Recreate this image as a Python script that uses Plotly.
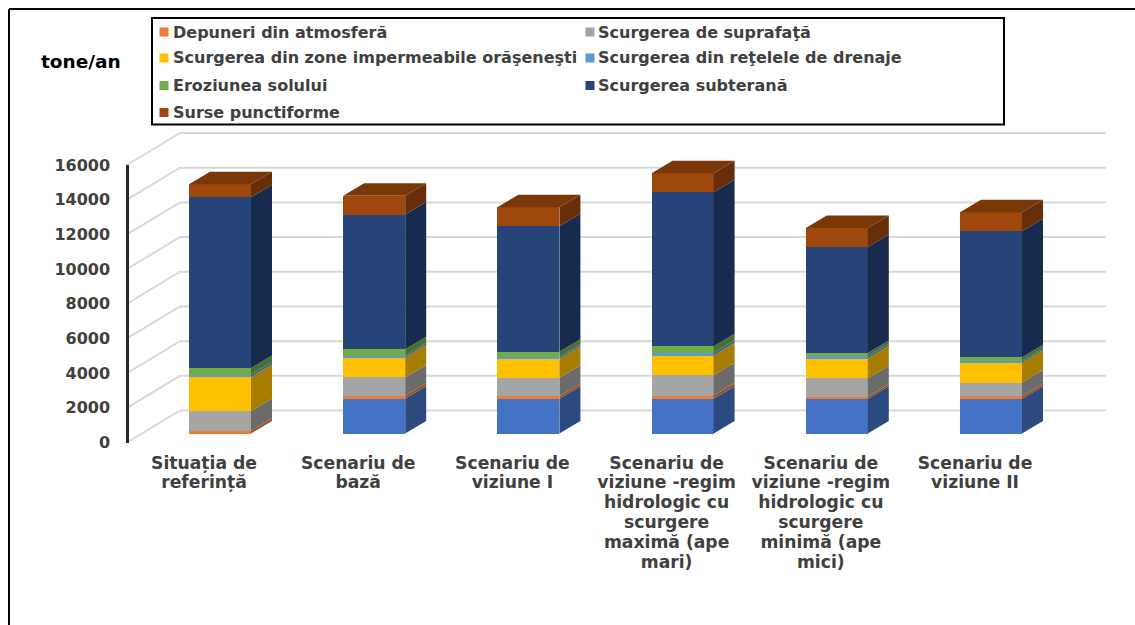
import plotly.graph_objects as go

# ---------- data ----------
categories = ["Situația de<br>referință", "Scenariu de<br>bază", "Scenariu de<br>viziune I",
              "Scenariu de<br>viziune -regim<br>hidrologic cu<br>scurgere<br>maximă (ape<br>mari)",
              "Scenariu de<br>viziune -regim<br>hidrologic cu<br>scurgere<br>minimă (ape<br>mici)",
              "Scenariu de<br>viziune II"]
baza = [0, 2000, 2000, 2000, 2000, 2000]
depuneri = [150, 170, 150, 190, 130, 150]
suprafata = [1150, 1060, 1060, 1170, 1055, 790]
impermeabile = [1950, 1150, 1100, 1135, 1135, 1135]
drenaje = [150, 115, 115, 155, 130, 115]
eroziune = [380, 365, 290, 380, 195, 210]
subterana = [9840, 7760, 7240, 8885, 6110, 7255]
punctiforme = [750, 1095, 1095, 1095, 1095, 1095]
y_ticks = [0, 2000, 4000, 6000, 8000, 10000, 12000, 14000, 16000]

series_values = [baza, depuneri, suprafata, impermeabile, drenaje, eroziune, subterana, punctiforme]
series_names = ["", "Depuneri din atmosferă", "Scurgerea de suprafaţă",
                "Scurgerea din zone impermeabile orăşeneşti", "Scurgerea din reţelele de drenaje",
                "Eroziunea solului", "Scurgerea subterană", "Surse punctiforme"]
front_colors = ["#4472C4", "#ED7D31", "#A5A5A5", "#FFC000", "#5B9BD5", "#70AD47", "#264478", "#9E480E"]
side_colors = ["#2C4A80", "#9A5120", "#6B6B6B", "#A67D00", "#3B658A", "#49702E", "#172B4E", "#672F09"]
top_color = "#7A3708"

# ---------- geometry of the page ----------
W, H = 1135, 625
FONT = "DejaVu Sans"
TEXT = "#404040"
CAT0, CAT_STEP = 220.0, 154.2          # pixel of first category, pixels per category
PLOT_TOP, PLOT_BOTTOM = 165.0, 442.5   # pixels of 16000 and 0 on the front plane
U = 16000 / (PLOT_BOTTOM - PLOT_TOP)   # value units per pixel
BAR_W = 62 / CAT_STEP
DEPTH_X, DEPTH_Y = 21 / CAT_STEP, 12.5 * U
BAR_SHIFT = 9 * U                      # bars stand behind the front plane
x_range = [(0 - CAT0) / CAT_STEP, (W - CAT0) / CAT_STEP]
front_domain = [(H - PLOT_BOTTOM) / H, (H - PLOT_TOP) / H]
full_domain = [(H - PLOT_BOTTOM) / H, 1]
full_top = PLOT_BOTTOM * U


def cx(px):
    return (px - CAT0) / CAT_STEP


fig = go.Figure()

# wall: back grid lines and floor/side diagonals
gx, gy = [], []
for v in y_ticks:
    gx += [cx(127), cx(180), cx(1106), None]
    gy += [v, v + 32 * U, v + 32 * U, None]
fig.add_trace(go.Scatter(x=gx, y=gy, mode="lines", line=dict(color="#D9D9D9", width=2),
                         hoverinfo="skip", showlegend=False, cliponaxis=False, xaxis="x", yaxis="y"))

# carrier of the value axis on the front plane
fig.add_trace(go.Scatter(x=[None] * len(y_ticks), y=y_ticks, mode="lines", hoverinfo="skip",
                         showlegend=False, xaxis="x", yaxis="y3"))

# stacked front faces
idx = list(range(len(categories)))
for name, vals, col in zip(series_names, series_values, front_colors):
    fig.add_trace(go.Bar(x=idx, y=vals, name=name, width=BAR_W, marker=dict(color=col, line=dict(width=0)),
                         showlegend=False, xaxis="x2", yaxis="y2"))

# side faces and tops derived from the stacked values
running = [0] * len(categories)
for vals, col in zip(series_values, side_colors):
    sx, sy = [], []
    for i, v in enumerate(vals):
        lo, hi = running[i], running[i] + v
        if v > 0:
            xr = i + BAR_W / 2
            sx += [xr, xr + DEPTH_X, xr + DEPTH_X, xr, xr, None]
            sy += [lo, lo + DEPTH_Y, hi + DEPTH_Y, hi, lo, None]
        running[i] = hi
    fig.add_trace(go.Scatter(x=sx, y=sy, mode="lines", fill="toself", fillcolor=col, line=dict(width=0),
                             hoverinfo="skip", showlegend=False, cliponaxis=False, xaxis="x2", yaxis="y2"))
tx, ty = [], []
for i, top in enumerate(running):
    xl, xr = i - BAR_W / 2, i + BAR_W / 2
    tx += [xl, xl + DEPTH_X, xr + DEPTH_X, xr, xl, None]
    ty += [top, top + DEPTH_Y, top + DEPTH_Y, top, top, None]
fig.add_trace(go.Scatter(x=tx, y=ty, mode="lines", fill="toself", fillcolor=top_color, line=dict(width=0),
                         hoverinfo="skip", showlegend=False, cliponaxis=False, xaxis="x2", yaxis="y2"))

# ---------- legend, title, frame ----------
shapes = [
    dict(type="line", xref="paper", yref="paper", x0=9 / W, x1=1, y0=1 - 9 / H, y1=1 - 9 / H,
         line=dict(color="#000000", width=2)),
    dict(type="line", xref="paper", yref="paper", x0=9 / W, x1=9 / W, y0=1 - 9 / H, y1=0,
         line=dict(color="#000000", width=2)),
    dict(type="rect", xref="paper", yref="paper", x0=152 / W, x1=1004 / W, y0=1 - 18 / H, y1=1 - 124.5 / H,
         line=dict(color="#000000", width=2), fillcolor="#FFFFFF"),
]
annotations = [dict(text="<b>tone/an</b>", xref="paper", yref="paper", x=41 / W, y=1 - 61 / H, xanchor="left",
                    yanchor="middle", showarrow=False, xshift=-2, font=dict(family=FONT, size=18.5, color="#000000"))]
rows = [32, 58, 85.5, 112.5]
for k, (name, col) in enumerate(zip(series_names[1:], front_colors[1:])):
    ry = rows[k // 2]
    sq0, tx0 = (159.5, 173) if k % 2 == 0 else (585.5, 598)
    shapes.append(dict(type="rect", xref="paper", yref="paper", x0=sq0 / W, x1=(sq0 + 9) / W,
                       y0=1 - (ry - 4.5) / H, y1=1 - (ry + 4.5) / H, fillcolor=col, line=dict(width=0)))
    annotations.append(dict(text=f"<b>{name}</b>", xref="paper", yref="paper", x=tx0 / W, y=1 - ry / H,
                            xanchor="left", yanchor="middle", showarrow=False, xshift=-2,
                            font=dict(family=FONT, size=16, color=TEXT)))


def cat_label(c):
    return "<br>".join(f'<span style="font-size:17.2px"><b>{p}</b></span>' for p in c.split("<br>"))


fig.update_layout(
    width=W, height=H, margin=dict(l=0, r=0, t=0, b=0), autosize=False,
    paper_bgcolor="#FFFFFF", plot_bgcolor="rgba(0,0,0,0)", barmode="stack", bargap=0,
    font=dict(family=FONT, color=TEXT), showlegend=False, shapes=shapes, annotations=annotations,
    xaxis=dict(domain=[0, 1], range=x_range, visible=False, anchor="y", automargin=False),
    yaxis=dict(domain=full_domain, range=[0, full_top], anchor="x", visible=False, automargin=False),
    yaxis3=dict(domain=front_domain, range=[0, 16000], anchor="free", position=127 / W, side="left", automargin=False,
                tickvals=y_ticks, ticktext=[f"<b>{t}</b>" for t in y_ticks], showgrid=False, zeroline=False,
                showline=True, linecolor="#262626", linewidth=2.5, ticks="", ticklabelstandoff=13,
                tickfont=dict(family=FONT, size=16, color=TEXT)),
    xaxis2=dict(domain=[0, 1], range=x_range, anchor="y2", showgrid=False, zeroline=False, showline=False,
                automargin=False, tickvals=[i - 16 / CAT_STEP for i in idx],
                ticktext=[cat_label(c) for c in categories],
                tickangle=0, ticks="", ticklabelstandoff=10, tickfont=dict(family=FONT, size=15.2, color=TEXT)),
    yaxis2=dict(domain=full_domain, range=[-BAR_SHIFT, full_top - BAR_SHIFT], anchor="x2", visible=False, automargin=False),
)

fig.write_html("out.html", config={"displayModeBar": False},
               post_script="document.body.style.margin='0';document.body.style.overflow='hidden';")
